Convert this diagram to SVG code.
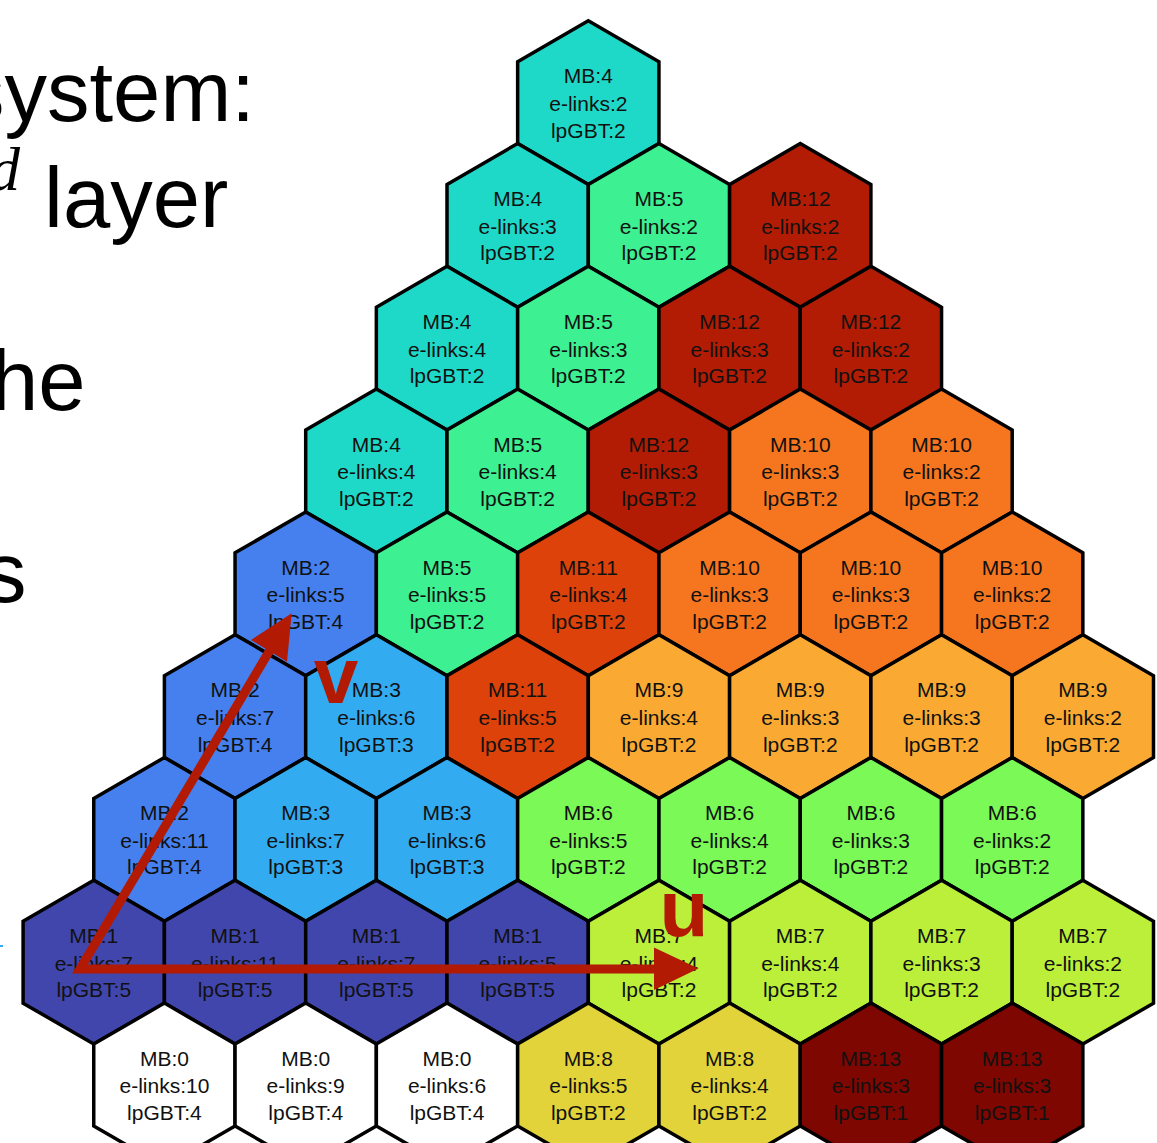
<svg xmlns="http://www.w3.org/2000/svg" width="1157" height="1143" viewBox="0 0 1157 1143">
<defs>
<style>
.hex{stroke:#000;stroke-width:3.5;stroke-linejoin:miter}
.t{font-family:"Liberation Sans",Arial,sans-serif;font-size:21px;fill:#111;text-anchor:middle}
.big{font-family:"Liberation Sans",Arial,sans-serif;font-size:85px;fill:#000}
.lab{font-family:"Liberation Sans",Arial,sans-serif;font-weight:bold;fill:#b21a04;text-anchor:middle}
.m0{fill:#ffffff}.m1{fill:#4146ad}.m2{fill:#4580ee}.m3{fill:#33abf1}.m4{fill:#1fd9c8}.m5{fill:#3df091}.m6{fill:#7af957}
.m7{fill:#bbef3a}.m8{fill:#e3d33a}.m9{fill:#faaa32}.m10{fill:#f6761f}.m11{fill:#dd420a}.m12{fill:#b21c05}.m13{fill:#7f0702}
.arr{stroke:#b21a04;stroke-width:9;fill:none;stroke-linejoin:miter}
</style>
<polygon id="h" points="0,-81.9 70.65,-40.95 70.65,40.95 0,81.9 -70.65,40.95 -70.65,-40.95"/>
</defs>
<rect width="1157" height="1143" fill="#fff"/>
<g id="side-text">
<text class="big" x="-38" y="121">system:</text>
<text x="20" y="190" font-family="Liberation Serif,serif" font-style="italic" font-size="62" text-anchor="end">d</text>
<text class="big" x="44" y="227">layer</text>
<text class="big" x="-9" y="410">he</text>
<text class="big" x="-16" y="602">s</text>
<line x1="0" y1="946" x2="3" y2="946" stroke="#33abf1" stroke-width="2"/>
</g>
<g id="hexes">
<g id="n0_0" transform="translate(588.3,102.6)"><use href="#h" class="hex m4"/><text class="t" y="-19.3">MB:4</text><text class="t" y="8.4">e-links:2</text><text class="t" y="35.1">lpGBT:2</text></g>

<g id="n1_0" transform="translate(517.65,225.4)"><use href="#h" class="hex m4"/><text class="t" y="-19.3">MB:4</text><text class="t" y="8.4">e-links:3</text><text class="t" y="35.1">lpGBT:2</text></g>
<g id="n1_1" transform="translate(658.95,225.4)"><use href="#h" class="hex m5"/><text class="t" y="-19.3">MB:5</text><text class="t" y="8.4">e-links:2</text><text class="t" y="35.1">lpGBT:2</text></g>
<g id="n1_2" transform="translate(800.25,225.4)"><use href="#h" class="hex m12"/><text class="t" y="-19.3">MB:12</text><text class="t" y="8.4">e-links:2</text><text class="t" y="35.1">lpGBT:2</text></g>

<g id="n2_0" transform="translate(447,348.2)"><use href="#h" class="hex m4"/><text class="t" y="-19.3">MB:4</text><text class="t" y="8.4">e-links:4</text><text class="t" y="35.1">lpGBT:2</text></g>
<g id="n2_1" transform="translate(588.3,348.2)"><use href="#h" class="hex m5"/><text class="t" y="-19.3">MB:5</text><text class="t" y="8.4">e-links:3</text><text class="t" y="35.1">lpGBT:2</text></g>
<g id="n2_2" transform="translate(729.6,348.2)"><use href="#h" class="hex m12"/><text class="t" y="-19.3">MB:12</text><text class="t" y="8.4">e-links:3</text><text class="t" y="35.1">lpGBT:2</text></g>
<g id="n2_3" transform="translate(870.9,348.2)"><use href="#h" class="hex m12"/><text class="t" y="-19.3">MB:12</text><text class="t" y="8.4">e-links:2</text><text class="t" y="35.1">lpGBT:2</text></g>

<g id="n3_0" transform="translate(376.35,471)"><use href="#h" class="hex m4"/><text class="t" y="-19.3">MB:4</text><text class="t" y="8.4">e-links:4</text><text class="t" y="35.1">lpGBT:2</text></g>
<g id="n3_1" transform="translate(517.65,471)"><use href="#h" class="hex m5"/><text class="t" y="-19.3">MB:5</text><text class="t" y="8.4">e-links:4</text><text class="t" y="35.1">lpGBT:2</text></g>
<g id="n3_2" transform="translate(658.95,471)"><use href="#h" class="hex m12"/><text class="t" y="-19.3">MB:12</text><text class="t" y="8.4">e-links:3</text><text class="t" y="35.1">lpGBT:2</text></g>
<g id="n3_3" transform="translate(800.25,471)"><use href="#h" class="hex m10"/><text class="t" y="-19.3">MB:10</text><text class="t" y="8.4">e-links:3</text><text class="t" y="35.1">lpGBT:2</text></g>
<g id="n3_4" transform="translate(941.55,471)"><use href="#h" class="hex m10"/><text class="t" y="-19.3">MB:10</text><text class="t" y="8.4">e-links:2</text><text class="t" y="35.1">lpGBT:2</text></g>

<g id="n4_0" transform="translate(305.7,593.8)"><use href="#h" class="hex m2"/><text class="t" y="-19.3">MB:2</text><text class="t" y="8.4">e-links:5</text><text class="t" y="35.1">lpGBT:4</text></g>
<g id="n4_1" transform="translate(447,593.8)"><use href="#h" class="hex m5"/><text class="t" y="-19.3">MB:5</text><text class="t" y="8.4">e-links:5</text><text class="t" y="35.1">lpGBT:2</text></g>
<g id="n4_2" transform="translate(588.3,593.8)"><use href="#h" class="hex m11"/><text class="t" y="-19.3">MB:11</text><text class="t" y="8.4">e-links:4</text><text class="t" y="35.1">lpGBT:2</text></g>
<g id="n4_3" transform="translate(729.6,593.8)"><use href="#h" class="hex m10"/><text class="t" y="-19.3">MB:10</text><text class="t" y="8.4">e-links:3</text><text class="t" y="35.1">lpGBT:2</text></g>
<g id="n4_4" transform="translate(870.9,593.8)"><use href="#h" class="hex m10"/><text class="t" y="-19.3">MB:10</text><text class="t" y="8.4">e-links:3</text><text class="t" y="35.1">lpGBT:2</text></g>
<g id="n4_5" transform="translate(1012.2,593.8)"><use href="#h" class="hex m10"/><text class="t" y="-19.3">MB:10</text><text class="t" y="8.4">e-links:2</text><text class="t" y="35.1">lpGBT:2</text></g>

<g id="n5_0" transform="translate(235.05,716.6)"><use href="#h" class="hex m2"/><text class="t" y="-19.3">MB:2</text><text class="t" y="8.4">e-links:7</text><text class="t" y="35.1">lpGBT:4</text></g>
<g id="n5_1" transform="translate(376.35,716.6)"><use href="#h" class="hex m3"/><text class="t" y="-19.3">MB:3</text><text class="t" y="8.4">e-links:6</text><text class="t" y="35.1">lpGBT:3</text></g>
<g id="n5_2" transform="translate(517.65,716.6)"><use href="#h" class="hex m11"/><text class="t" y="-19.3">MB:11</text><text class="t" y="8.4">e-links:5</text><text class="t" y="35.1">lpGBT:2</text></g>
<g id="n5_3" transform="translate(658.95,716.6)"><use href="#h" class="hex m9"/><text class="t" y="-19.3">MB:9</text><text class="t" y="8.4">e-links:4</text><text class="t" y="35.1">lpGBT:2</text></g>
<g id="n5_4" transform="translate(800.25,716.6)"><use href="#h" class="hex m9"/><text class="t" y="-19.3">MB:9</text><text class="t" y="8.4">e-links:3</text><text class="t" y="35.1">lpGBT:2</text></g>
<g id="n5_5" transform="translate(941.55,716.6)"><use href="#h" class="hex m9"/><text class="t" y="-19.3">MB:9</text><text class="t" y="8.4">e-links:3</text><text class="t" y="35.1">lpGBT:2</text></g>
<g id="n5_6" transform="translate(1082.85,716.6)"><use href="#h" class="hex m9"/><text class="t" y="-19.3">MB:9</text><text class="t" y="8.4">e-links:2</text><text class="t" y="35.1">lpGBT:2</text></g>

<g id="n6_0" transform="translate(164.4,839.4)"><use href="#h" class="hex m2"/><text class="t" y="-19.3">MB:2</text><text class="t" y="8.4">e-links:11</text><text class="t" y="35.1">lpGBT:4</text></g>
<g id="n6_1" transform="translate(305.7,839.4)"><use href="#h" class="hex m3"/><text class="t" y="-19.3">MB:3</text><text class="t" y="8.4">e-links:7</text><text class="t" y="35.1">lpGBT:3</text></g>
<g id="n6_2" transform="translate(447,839.4)"><use href="#h" class="hex m3"/><text class="t" y="-19.3">MB:3</text><text class="t" y="8.4">e-links:6</text><text class="t" y="35.1">lpGBT:3</text></g>
<g id="n6_3" transform="translate(588.3,839.4)"><use href="#h" class="hex m6"/><text class="t" y="-19.3">MB:6</text><text class="t" y="8.4">e-links:5</text><text class="t" y="35.1">lpGBT:2</text></g>
<g id="n6_4" transform="translate(729.6,839.4)"><use href="#h" class="hex m6"/><text class="t" y="-19.3">MB:6</text><text class="t" y="8.4">e-links:4</text><text class="t" y="35.1">lpGBT:2</text></g>
<g id="n6_5" transform="translate(870.9,839.4)"><use href="#h" class="hex m6"/><text class="t" y="-19.3">MB:6</text><text class="t" y="8.4">e-links:3</text><text class="t" y="35.1">lpGBT:2</text></g>
<g id="n6_6" transform="translate(1012.2,839.4)"><use href="#h" class="hex m6"/><text class="t" y="-19.3">MB:6</text><text class="t" y="8.4">e-links:2</text><text class="t" y="35.1">lpGBT:2</text></g>

<g id="n7_0" transform="translate(93.75,962.2)"><use href="#h" class="hex m1"/><text class="t" y="-19.3">MB:1</text><text class="t" y="8.4">e-links:7</text><text class="t" y="35.1">lpGBT:5</text></g>
<g id="n7_1" transform="translate(235.05,962.2)"><use href="#h" class="hex m1"/><text class="t" y="-19.3">MB:1</text><text class="t" y="8.4">e-links:11</text><text class="t" y="35.1">lpGBT:5</text></g>
<g id="n7_2" transform="translate(376.35,962.2)"><use href="#h" class="hex m1"/><text class="t" y="-19.3">MB:1</text><text class="t" y="8.4">e-links:7</text><text class="t" y="35.1">lpGBT:5</text></g>
<g id="n7_3" transform="translate(517.65,962.2)"><use href="#h" class="hex m1"/><text class="t" y="-19.3">MB:1</text><text class="t" y="8.4">e-links:5</text><text class="t" y="35.1">lpGBT:5</text></g>
<g id="n7_4" transform="translate(658.95,962.2)"><use href="#h" class="hex m7"/><text class="t" y="-19.3">MB:7</text><text class="t" y="8.4">e-links:4</text><text class="t" y="35.1">lpGBT:2</text></g>
<g id="n7_5" transform="translate(800.25,962.2)"><use href="#h" class="hex m7"/><text class="t" y="-19.3">MB:7</text><text class="t" y="8.4">e-links:4</text><text class="t" y="35.1">lpGBT:2</text></g>
<g id="n7_6" transform="translate(941.55,962.2)"><use href="#h" class="hex m7"/><text class="t" y="-19.3">MB:7</text><text class="t" y="8.4">e-links:3</text><text class="t" y="35.1">lpGBT:2</text></g>
<g id="n7_7" transform="translate(1082.85,962.2)"><use href="#h" class="hex m7"/><text class="t" y="-19.3">MB:7</text><text class="t" y="8.4">e-links:2</text><text class="t" y="35.1">lpGBT:2</text></g>

<g id="n8_0" transform="translate(164.4,1085)"><use href="#h" class="hex m0"/><text class="t" y="-19.3">MB:0</text><text class="t" y="8.4">e-links:10</text><text class="t" y="35.1">lpGBT:4</text></g>
<g id="n8_1" transform="translate(305.7,1085)"><use href="#h" class="hex m0"/><text class="t" y="-19.3">MB:0</text><text class="t" y="8.4">e-links:9</text><text class="t" y="35.1">lpGBT:4</text></g>
<g id="n8_2" transform="translate(447,1085)"><use href="#h" class="hex m0"/><text class="t" y="-19.3">MB:0</text><text class="t" y="8.4">e-links:6</text><text class="t" y="35.1">lpGBT:4</text></g>
<g id="n8_3" transform="translate(588.3,1085)"><use href="#h" class="hex m8"/><text class="t" y="-19.3">MB:8</text><text class="t" y="8.4">e-links:5</text><text class="t" y="35.1">lpGBT:2</text></g>
<g id="n8_4" transform="translate(729.6,1085)"><use href="#h" class="hex m8"/><text class="t" y="-19.3">MB:8</text><text class="t" y="8.4">e-links:4</text><text class="t" y="35.1">lpGBT:2</text></g>
<g id="n8_5" transform="translate(870.9,1085)"><use href="#h" class="hex m13"/><text class="t" y="-19.3">MB:13</text><text class="t" y="8.4">e-links:3</text><text class="t" y="35.1">lpGBT:1</text></g>
<g id="n8_6" transform="translate(1012.2,1085)"><use href="#h" class="hex m13"/><text class="t" y="-19.3">MB:13</text><text class="t" y="8.4">e-links:3</text><text class="t" y="35.1">lpGBT:1</text></g>
</g>
<g id="connectors">
<path class="arr" d="M 270 650 L 80 969 L 656 969"/>
<polygon points="291.7,613.3 287,661.8 251,640" fill="#b21a04"/>
<polygon points="698.5,968.5 654,947.5 654,990" fill="#b21a04"/>
<text class="lab" x="336" y="703" font-size="80">v</text>
<text class="lab" x="684" y="936" font-size="80">u</text>
</g>
</svg>
